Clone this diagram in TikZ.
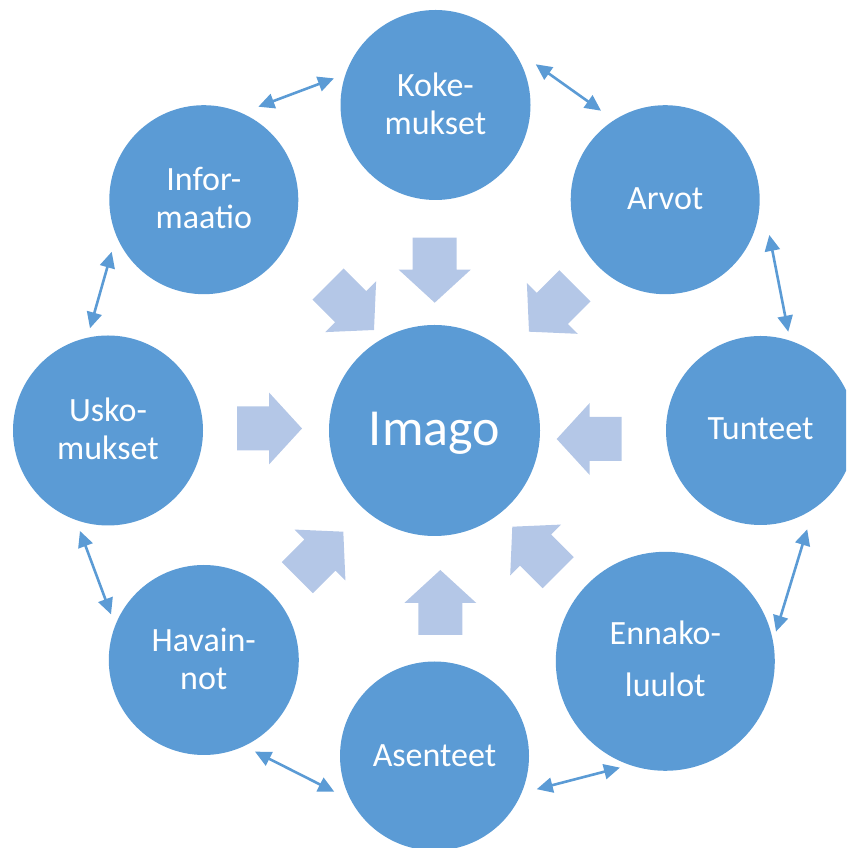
\documentclass[tikz,border=0pt]{standalone}
\usepackage{fontspec}
\setmainfont{Carlito}
\usetikzlibrary{calc,arrows.meta}
\definecolor{cblue}{RGB}{91,155,213}
\definecolor{lblue}{RGB}{180,199,231}
\begin{document}
\begin{tikzpicture}[x=1pt,y=1pt,
  circ/.style={circle,fill=cblue,draw=none,inner sep=0pt,minimum size=#1},
  lbl/.style={text=white,anchor=base,inner sep=0pt,font=\fontsize{34}{40}\selectfont},
  biglbl/.style={text=white,anchor=base,inner sep=0pt,font=\fontsize{52}{60}\selectfont},
  dbl/.style={draw=cblue,line width=2.6pt,{Triangle[length=16pt,width=15pt]}-{Triangle[length=16pt,width=15pt]}},
  blockarrow/.pic={\fill[lblue] (0,0) -- (-33,36) -- (-33,22) -- (-65,22) -- (-65,-22) -- (-33,-22) -- (-33,-36) -- cycle;}
]
\useasboundingbox (0,0) rectangle (846,848);
\clip (0,0) rectangle (846,848);

% circles
\node[circ=211pt] (C) at (434.5,417.5) {};
\node[circ=190pt] (K) at (435.5,743) {};
\node[circ=189pt] (A) at (665.2,648.3) {};
\node[circ=189pt] (T) at (760.5,417.5) {};
\node[circ=219pt] (E) at (665.3,186.7) {};
\node[circ=189pt] (S) at (434.5,92) {};
\node[circ=190pt] (H) at (203.8,188) {};
\node[circ=190pt] (U) at (108,417.5) {};
\node[circ=189pt] (I) at (203.8,648.3) {};

% labels
\node[biglbl] (tC) at ($(C)+(0,-15.5)$) {Imago};
\node[lbl] (tK1) at ($(K)+(0,8.5)$) {Koke-};
\node[lbl] (tK2) at ($(K)+(0,-29.5)$) {mukset};
\node[lbl] (tA) at ($(A)+(0,-9.6)$) {Arvot};
\node[lbl] (tT) at ($(T)+(0,-9.5)$) {Tunteet};
\node[lbl] (tE1) at ($(E)+(0,16.3)$) {Ennako-};
\node[lbl] (tE2) at ($(E)+(0,-35.4)$) {luulot};
\node[lbl] (tS) at ($(S)+(0,-10.7)$) {Asenteet};
\node[lbl] (tH1) at ($(H)+(0,8.3)$) {Havain-};
\node[lbl] (tH2) at ($(H)+(0,-29.3)$) {not};
\node[lbl] (tU1) at ($(U)+(0,8.8)$) {Usko-};
\node[lbl] (tU2) at ($(U)+(0,-28.8)$) {mukset};
\node[lbl] (tI1) at ($(I)+(0,9)$) {Infor-};
\node[lbl] (tI2) at ($(I)+(0,-28.6)$) {maatio};

% block arrows towards the centre
\pic[rotate=-90] at (434.7,545.3) {blockarrow};
\pic[rotate=90] at (440.3,278) {blockarrow};
\pic[rotate=0] at (302,419.5) {blockarrow};
\pic[rotate=180] at (556.7,409) {blockarrow};
\pic[rotate=45] at (343.3,316.3) {blockarrow};
\pic[rotate=-45] at (374,518) {blockarrow};
\pic[rotate=-135] at (529,516.3) {blockarrow};
\pic[rotate=135] at (512.3,321.3) {blockarrow};

% double arrows between neighbours
\draw[dbl] ($(K)+(165.3:105)$) -- ($(I)+(59.6:107.8)$);
\draw[dbl] ($(K)+(22.1:108.2)$) -- ($(A)+(125.8:109.7)$);
\draw[dbl] ($(A)+(-18.7:109.9)$) -- ($(T)+(74.3:102.6)$);
\draw[dbl] ($(T)+(-64.7:109.3)$) -- ($(E)+(15:114.6)$);
\draw[dbl] ($(E)+(-113.1:115.6)$) -- ($(S)+(-18:107.5)$);
\draw[dbl] ($(S)+(-160.4:106.4)$) -- ($(H)+(-60.8:105)$);
\draw[dbl] ($(H)+(153.8:103.4)$) -- ($(U)+(-105.6:104.3)$);
\draw[dbl] ($(U)+(100:103.8)$) -- ($(I)+(-150.5:105.8)$);
\end{tikzpicture}
\end{document}
